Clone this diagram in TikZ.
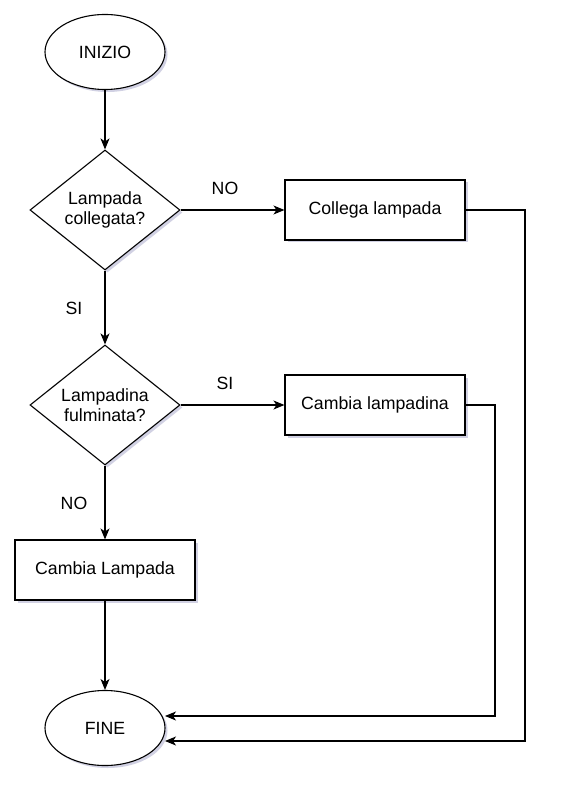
\documentclass[tikz,border=0pt]{standalone}
\usepackage{fontspec}
\setmainfont{Liberation Sans}
\usetikzlibrary{shapes.geometric,arrows.meta,shadows,positioning}
\begin{document}
\begin{tikzpicture}[x=1pt,y=-1pt,
  every node/.style={font=\fontsize{17.7}{20.5}\selectfont},
  shd/.style={drop shadow={shadow xshift=2.5pt,shadow yshift=-2.5pt,opacity=0.18,fill=black!60!blue}},
  term/.style={ellipse,draw,line width=1.1pt,fill=white,minimum width=120pt,minimum height=75pt,inner sep=0pt,shd},
  dec/.style={diamond,draw,line width=1.1pt,fill=white,minimum width=150pt,minimum height=120pt,inner sep=0pt,align=center,aspect=1.25,shd},
  proc/.style={rectangle,draw,line width=1.1pt,fill=white,minimum width=180pt,minimum height=60pt,inner sep=0pt,shd},
  conn/.style={line width=1.1pt,-{Stealth[length=11pt,width=9pt,inset=3pt]}},
  lbl/.style={fill=none,inner sep=1pt}
]
\useasboundingbox (0,0) rectangle (563,791);
\fill[white] (0,0) rectangle (563,791);
\node[term] (start) at (105,52) {INIZIO};
\node[dec] (d1) at (105,210) {Lampada\\collegata?};
\node[proc] (p1) at (375,210) {Collega lampada};
\node[dec] (d2) at (105,405) {Lampadina\\fulminata?};
\node[proc] (p2) at (375,405) {Cambia lampadina};
\node[proc] (p3) at (105,570) {Cambia Lampada};
\node[term] (end) at (105,728) {FINE};
\coordinate (c1) at (525,210);
\coordinate (c2) at (525,741);
\coordinate (e1) at (165,741);
\coordinate (c3) at (495,405);
\coordinate (c4) at (495,716);
\coordinate (e2) at (165,716);
\draw[conn] (start) -- (d1);
\draw[conn] (d1) -- (p1);
\draw[conn] (d1) -- (d2);
\draw[conn] (d2) -- (p2);
\draw[conn] (d2) -- (p3);
\draw[conn] (p3) -- (end);
\draw[conn] (p1.east) -- (c1) -- (c2) -- (e1);
\draw[conn] (p2.east) -- (c3) -- (c4) -- (e2);
\node[lbl] (l1) at (225,188) {NO};
\node[lbl] (l2) at (74,308) {SI};
\node[lbl] (l3) at (225,383) {SI};
\node[lbl] (l4) at (74,503) {NO};
\end{tikzpicture}
\end{document}
